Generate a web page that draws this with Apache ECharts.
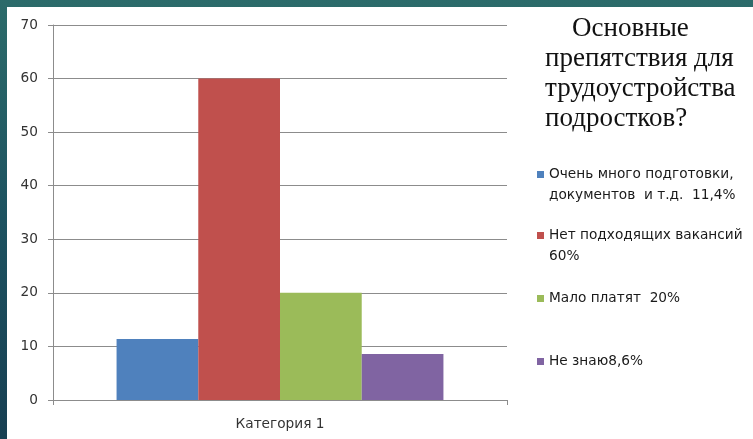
<!DOCTYPE html>
<html>
<head>
<meta charset="utf-8">
<script src="https://cdn.jsdelivr.net/npm/echarts@6/dist/echarts.min.js"></script>
<style>
  html, body { margin: 0; padding: 0; width: 753px; height: 439px; overflow: hidden; }
  body { background: linear-gradient(180deg, #2c6b6a 0%, #1d5260 50%, #173f52 100%); position: relative; }
  #panel { position: absolute; left: 7px; top: 7px; right: 0; bottom: 0; background: #ffffff; }
  #chart { position: absolute; left: 0; top: 0; width: 753px; height: 439px; }
</style>
</head>
<body>
<div id="panel"></div>
<div id="chart"></div>
<script>
// ---- data ----
const categories = ['Категория 1'];
const seriesNames = [
  'Очень много подготовки, документов  и т.д.  11,4%',
  'Нет подходящих вакансий 60%',
  'Мало платят  20%',
  'Не знаю8,6%'
];
const legendLabels = [
  'Очень много подготовки,\nдокументов  и т.д.  11,4%',
  'Нет подходящих вакансий\n60%',
  'Мало платят  20%',
  'Не знаю8,6%'
];
const seriesValues = [11.4, 60, 20, 8.6];
const seriesColors = ['#4f81bd', '#c0504d', '#9bbb59', '#8064a2'];
const yTicks = { min: 0, max: 70, interval: 10 };
const titleLines = ['Основные', 'препятствия для', 'трудоустройства', 'подростков?'];

const chart = echarts.init(document.getElementById('chart'), null, { renderer: 'canvas' });

const labelFont = { fontFamily: 'DejaVu Sans', fontSize: 13.7, color: '#333333' };
const legendTops = [143, 204, 288, 351];

const legends = seriesNames.map((name, i) => {
  const multi = legendLabels[i].indexOf('\n') >= 0;
  return {
    data: [name],
    orient: 'vertical',
    left: 537,
    top: legendTops[i],
    padding: 0,
    icon: 'rect',
    itemWidth: 7,
    itemHeight: 7,
    selectedMode: false,
    formatter: () => (multi ? ' \n' : '') + legendLabels[i],
    textStyle: Object.assign({}, labelFont, {
      color: '#1a1a1a',
      lineHeight: 21
    })
  };
});

const titleStyle = { fontFamily: 'Liberation Serif', fontSize: 27, fontWeight: 'normal', lineHeight: 30, color: '#111' };

const option = {
  animation: false,
  backgroundColor: 'transparent',
  title: {
    left: 545,
    top: 14,
    padding: 0,
    text: '{a|' + titleLines[0] + '}\n' + titleLines.slice(1).map(t => '{b|' + t + '}').join('\n'),
    textStyle: {
      fontWeight: 'normal',
      rich: {
        a: Object.assign({}, titleStyle, { padding: [0, 0, 0, 27] }),
        b: Object.assign({}, titleStyle)
      }
    }
  },
  legend: legends,
  grid: { left: 53, right: 246, top: 25, bottom: 39, containLabel: false },
  xAxis: {
    type: 'category',
    data: categories,
    axisLine: { lineStyle: { color: '#8c8c8c', width: 1 } },
    axisTick: { show: true, length: 5, alignWithLabel: false, lineStyle: { color: '#8c8c8c' } },
    axisLabel: Object.assign({}, labelFont, { margin: 17 })
  },
  yAxis: {
    type: 'value',
    min: yTicks.min,
    max: yTicks.max,
    interval: yTicks.interval,
    axisLine: { show: true, lineStyle: { color: '#8c8c8c', width: 1 } },
    axisTick: { show: true, length: 5, lineStyle: { color: '#8c8c8c' } },
    axisLabel: Object.assign({}, labelFont, { margin: 15 }),
    splitLine: { show: true, lineStyle: { color: '#8c8c8c', width: 1 } }
  },
  series: seriesNames.map((name, i) => ({
    name: name,
    type: 'bar',
    data: [seriesValues[i]],
    itemStyle: { color: seriesColors[i] },
    barGap: '0%',
    barCategoryGap: '28%'
  }))
};

chart.setOption(option);
</script>
</body>
</html>
